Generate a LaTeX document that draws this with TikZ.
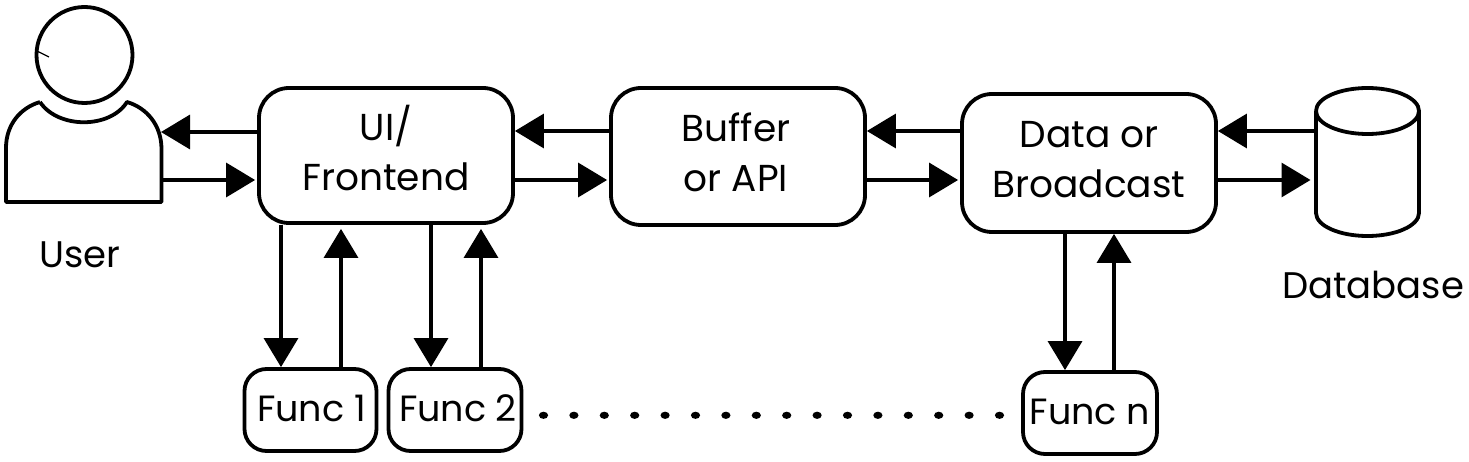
\documentclass[tikz,border=0pt]{standalone}
\usepackage{fontspec}
\setmainfont{Poppins}
\usetikzlibrary{arrows.meta,calc}
\tikzset{
  x=1pt,y=-1pt,
  boxbig/.style={draw=black,line width=3.8pt,rounded corners=30pt,inner sep=0pt,align=center,font=\fontsize{37.5}{50}\selectfont,fill=white},
  boxsmall/.style={draw=black,line width=3.8pt,rounded corners=22pt,inner sep=0pt,align=center,font=\fontsize{36.5}{44}\selectfont,fill=white},
  outline/.style={draw=black,line width=3.8pt,line join=round},
  flow/.style={draw=black,line width=3.4pt,-{Triangle[length=29pt,width=34pt]}},
  lab/.style={font=\fontsize{37}{44}\selectfont,inner sep=0pt},
  anchorbox/.style={inner sep=0pt,outer sep=0pt},
}
\newcommand{\raisetext}[2]{\raisebox{#1}{\begin{tabular}{@{}c@{}}#2\end{tabular}}}
\begin{document}
\begin{tikzpicture}
\useasboundingbox (0,0) rectangle (1469,462);
% boxes
\node[boxbig,minimum width=254pt,minimum height=135pt] (ui) at (386,155.5) {\raisetext{3pt}{UI/\\Frontend}};
\node[boxbig,minimum width=254pt,minimum height=137pt] (buffer) at (738,156.5) {\hspace*{-4pt}\raisetext{3pt}{Buffer\\or API}};
\node[boxbig,minimum width=254pt,minimum height=138pt] (data) at (1089,163) {\raisetext{3pt}{Data or\\Broadcast}};
\node[boxsmall,minimum width=132pt,minimum height=82pt] (f1) at (310.5,410) {\hspace*{2pt}\raisebox{3pt}{Func 1}};
\node[boxsmall,minimum width=133pt,minimum height=82pt] (f2) at (455,410) {\hspace*{6pt}\raisebox{3pt}{Func 2}};
\node[boxsmall,minimum width=134pt,minimum height=82pt] (fn) at (1090,413) {\raisebox{2pt}{Func n}};
% user
\node[anchorbox,minimum width=155pt,minimum height=102pt] (user) at (83.5,152) {};
\draw[outline] (84.5,55) circle (48);
\draw[draw=black,line width=1.2pt] (37,51) -- (49,57);
\draw[outline] (40,102) .. controls (58,129) and (110,129) .. (127,102)
  .. controls (147,108) and (161,125) .. (161.5,148) -- (161.5,202) -- (6,202) -- (6,148)
  .. controls (6,125) and (20,108) .. (40,102);
\node[lab] (userlab) at (80,255) {User};
% database
\node[anchorbox,minimum width=104pt,minimum height=148pt] (db) at (1367.5,162) {};
\draw[outline] (1316,111) arc[start angle=180,end angle=540,x radius=51.5pt,y radius=23pt];
\draw[outline] (1316,111) -- (1316,213) arc[start angle=180,end angle=360,x radius=51.5pt,y radius=23pt] -- (1419,111);
\node[lab] (dblab) at (1373,285) {Database};
% horizontal connectors
\draw[flow] (ui.west |- 0,132) -- (user.east |- 0,132);
\draw[flow] (user.east |- 0,180) -- ($(ui.west |- 0,180)+(-2,0)$);
\draw[flow] (buffer.west |- 0,131) -- (ui.east |- 0,131);
\draw[flow] (ui.east |- 0,180) -- ($(buffer.west |- 0,180)+(-2,0)$);
\draw[flow] (data.west |- 0,131) -- (buffer.east |- 0,131);
\draw[flow] (buffer.east |- 0,180) -- ($(data.west |- 0,180)+(-2,0)$);
\draw[flow] (db.west |- 0,131) -- (data.east |- 0,131);
\draw[flow] (data.east |- 0,180) -- ($(db.west |- 0,180)+(-5,0)$);
% vertical connectors
\draw[flow] (ui.south -| 281,0) -- (f1.north -| 281,0);
\draw[flow] (f1.north -| 341,0) -- ($(ui.south -| 341,0)+(0,4)$);
\draw[flow] (ui.south -| 431,0) -- (f2.north -| 431,0);
\draw[flow] (f2.north -| 481,0) -- ($(ui.south -| 481,0)+(0,4)$);
\draw[flow] (data.south -| 1065,0) -- (fn.north -| 1065,0);
\draw[flow] (fn.north -| 1114,0) -- (data.south -| 1114,0);
% dots
\foreach \i in {0,...,15} \fill (543.5+30.4*\i,415.3) ellipse[x radius=4.6pt,y radius=3.6pt];
\end{tikzpicture}
\end{document}
